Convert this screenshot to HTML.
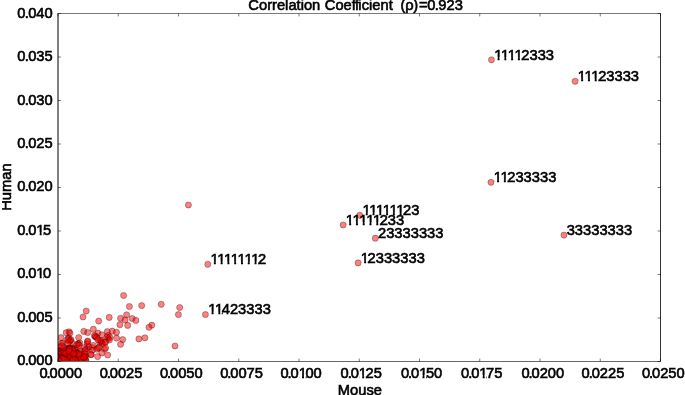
<!DOCTYPE html>
<html><head><meta charset="utf-8"><title>Correlation</title>
<style>html,body{margin:0;padding:0;background:#fff}svg{display:block}text{font-family:"Liberation Sans",sans-serif;font-size:14.7px;fill:#000;stroke:#000;stroke-width:0.6px}</style></head><body>
<svg width="685" height="395" viewBox="0 0 685 395">
<rect width="685" height="395" fill="#fff"/>
<clipPath id="c"><rect x="58.0" y="13.5" width="602.5" height="348.0"/></clipPath>
<g clip-path="url(#c)" fill="#f00" fill-opacity="0.5" stroke="#000" stroke-opacity="0.5" stroke-width="0.6">
<circle cx="69.4" cy="352.4" r="3.08"/>
<circle cx="63.3" cy="359.4" r="3.08"/>
<circle cx="57.9" cy="355.3" r="3.08"/>
<circle cx="60.4" cy="361.4" r="3.08"/>
<circle cx="61.2" cy="358.7" r="3.08"/>
<circle cx="66.7" cy="354.0" r="3.08"/>
<circle cx="58.9" cy="360.4" r="3.08"/>
<circle cx="58.5" cy="360.7" r="3.08"/>
<circle cx="71.5" cy="353.0" r="3.08"/>
<circle cx="58.5" cy="351.8" r="3.08"/>
<circle cx="57.5" cy="359.1" r="3.08"/>
<circle cx="65.5" cy="361.7" r="3.08"/>
<circle cx="61.6" cy="360.2" r="3.08"/>
<circle cx="66.1" cy="358.7" r="3.08"/>
<circle cx="67.0" cy="360.1" r="3.08"/>
<circle cx="60.9" cy="357.1" r="3.08"/>
<circle cx="60.8" cy="359.3" r="3.08"/>
<circle cx="58.0" cy="360.9" r="3.08"/>
<circle cx="69.4" cy="352.5" r="3.08"/>
<circle cx="68.8" cy="350.1" r="3.08"/>
<circle cx="58.8" cy="350.7" r="3.08"/>
<circle cx="78.6" cy="355.0" r="3.08"/>
<circle cx="58.1" cy="350.8" r="3.08"/>
<circle cx="64.1" cy="359.0" r="3.08"/>
<circle cx="59.1" cy="360.7" r="3.08"/>
<circle cx="83.7" cy="361.1" r="3.08"/>
<circle cx="58.7" cy="358.5" r="3.08"/>
<circle cx="60.2" cy="354.8" r="3.08"/>
<circle cx="58.2" cy="360.0" r="3.08"/>
<circle cx="67.7" cy="349.3" r="3.08"/>
<circle cx="61.6" cy="350.7" r="3.08"/>
<circle cx="70.0" cy="354.9" r="3.08"/>
<circle cx="61.8" cy="358.6" r="3.08"/>
<circle cx="58.3" cy="361.4" r="3.08"/>
<circle cx="82.1" cy="361.1" r="3.08"/>
<circle cx="70.0" cy="358.8" r="3.08"/>
<circle cx="85.1" cy="356.7" r="3.08"/>
<circle cx="63.4" cy="361.4" r="3.08"/>
<circle cx="68.9" cy="361.4" r="3.08"/>
<circle cx="85.7" cy="361.1" r="3.08"/>
<circle cx="62.9" cy="360.9" r="3.08"/>
<circle cx="60.8" cy="361.6" r="3.08"/>
<circle cx="58.9" cy="359.0" r="3.08"/>
<circle cx="69.2" cy="360.4" r="3.08"/>
<circle cx="59.7" cy="358.9" r="3.08"/>
<circle cx="62.3" cy="357.6" r="3.08"/>
<circle cx="71.4" cy="351.8" r="3.08"/>
<circle cx="63.9" cy="356.9" r="3.08"/>
<circle cx="59.1" cy="358.6" r="3.08"/>
<circle cx="58.3" cy="351.6" r="3.08"/>
<circle cx="72.1" cy="356.7" r="3.08"/>
<circle cx="66.7" cy="361.2" r="3.08"/>
<circle cx="58.7" cy="360.1" r="3.08"/>
<circle cx="61.5" cy="352.2" r="3.08"/>
<circle cx="72.9" cy="360.1" r="3.08"/>
<circle cx="61.9" cy="359.5" r="3.08"/>
<circle cx="60.9" cy="359.7" r="3.08"/>
<circle cx="68.6" cy="358.4" r="3.08"/>
<circle cx="63.0" cy="360.6" r="3.08"/>
<circle cx="67.1" cy="359.7" r="3.08"/>
<circle cx="60.9" cy="351.6" r="3.08"/>
<circle cx="64.9" cy="356.3" r="3.08"/>
<circle cx="63.4" cy="354.9" r="3.08"/>
<circle cx="77.9" cy="359.9" r="3.08"/>
<circle cx="69.6" cy="357.6" r="3.08"/>
<circle cx="69.5" cy="360.1" r="3.08"/>
<circle cx="61.6" cy="360.5" r="3.08"/>
<circle cx="73.9" cy="361.0" r="3.08"/>
<circle cx="57.6" cy="359.5" r="3.08"/>
<circle cx="58.4" cy="357.9" r="3.08"/>
<circle cx="63.6" cy="359.0" r="3.08"/>
<circle cx="58.9" cy="360.1" r="3.08"/>
<circle cx="70.6" cy="356.4" r="3.08"/>
<circle cx="65.1" cy="355.1" r="3.08"/>
<circle cx="63.9" cy="357.7" r="3.08"/>
<circle cx="58.3" cy="351.0" r="3.08"/>
<circle cx="72.7" cy="350.5" r="3.08"/>
<circle cx="61.7" cy="355.1" r="3.08"/>
<circle cx="59.6" cy="360.0" r="3.08"/>
<circle cx="59.4" cy="361.2" r="3.08"/>
<circle cx="72.4" cy="355.9" r="3.08"/>
<circle cx="77.9" cy="359.4" r="3.08"/>
<circle cx="57.6" cy="350.2" r="3.08"/>
<circle cx="63.0" cy="358.6" r="3.08"/>
<circle cx="60.6" cy="358.4" r="3.08"/>
<circle cx="67.7" cy="352.2" r="3.08"/>
<circle cx="60.3" cy="360.9" r="3.08"/>
<circle cx="66.4" cy="358.1" r="3.08"/>
<circle cx="73.4" cy="355.3" r="3.08"/>
<circle cx="61.3" cy="351.9" r="3.08"/>
<circle cx="63.8" cy="357.9" r="3.08"/>
<circle cx="64.1" cy="355.9" r="3.08"/>
<circle cx="83.3" cy="361.6" r="3.08"/>
<circle cx="63.9" cy="360.3" r="3.08"/>
<circle cx="59.2" cy="353.2" r="3.08"/>
<circle cx="66.6" cy="359.2" r="3.08"/>
<circle cx="59.9" cy="358.2" r="3.08"/>
<circle cx="59.4" cy="359.2" r="3.08"/>
<circle cx="66.4" cy="361.0" r="3.08"/>
<circle cx="64.2" cy="360.2" r="3.08"/>
<circle cx="60.0" cy="360.1" r="3.08"/>
<circle cx="59.7" cy="359.2" r="3.08"/>
<circle cx="69.4" cy="353.4" r="3.08"/>
<circle cx="61.3" cy="361.2" r="3.08"/>
<circle cx="58.6" cy="360.5" r="3.08"/>
<circle cx="60.3" cy="360.1" r="3.08"/>
<circle cx="60.5" cy="359.3" r="3.08"/>
<circle cx="63.8" cy="351.8" r="3.08"/>
<circle cx="70.6" cy="361.5" r="3.08"/>
<circle cx="57.8" cy="354.9" r="3.08"/>
<circle cx="85.2" cy="359.7" r="3.08"/>
<circle cx="58.3" cy="355.7" r="3.08"/>
<circle cx="64.0" cy="358.3" r="3.08"/>
<circle cx="70.2" cy="361.5" r="3.08"/>
<circle cx="70.5" cy="353.4" r="3.08"/>
<circle cx="60.1" cy="361.6" r="3.08"/>
<circle cx="81.0" cy="358.9" r="3.08"/>
<circle cx="62.5" cy="352.3" r="3.08"/>
<circle cx="61.7" cy="357.8" r="3.08"/>
<circle cx="61.5" cy="358.6" r="3.08"/>
<circle cx="59.8" cy="356.7" r="3.08"/>
<circle cx="67.0" cy="360.4" r="3.08"/>
<circle cx="59.1" cy="355.2" r="3.08"/>
<circle cx="62.3" cy="359.0" r="3.08"/>
<circle cx="58.1" cy="359.3" r="3.08"/>
<circle cx="62.6" cy="358.0" r="3.08"/>
<circle cx="57.6" cy="355.9" r="3.08"/>
<circle cx="61.7" cy="359.5" r="3.08"/>
<circle cx="58.9" cy="357.6" r="3.08"/>
<circle cx="66.0" cy="354.4" r="3.08"/>
<circle cx="63.3" cy="361.1" r="3.08"/>
<circle cx="85.1" cy="355.5" r="3.08"/>
<circle cx="62.0" cy="357.3" r="3.08"/>
<circle cx="69.6" cy="360.5" r="3.08"/>
<circle cx="66.2" cy="355.5" r="3.08"/>
<circle cx="63.8" cy="357.5" r="3.08"/>
<circle cx="77.7" cy="360.5" r="3.08"/>
<circle cx="73.5" cy="348.7" r="3.08"/>
<circle cx="60.1" cy="361.3" r="3.08"/>
<circle cx="67.5" cy="355.2" r="3.08"/>
<circle cx="60.5" cy="359.7" r="3.08"/>
<circle cx="75.6" cy="350.2" r="3.08"/>
<circle cx="73.2" cy="360.7" r="3.08"/>
<circle cx="68.0" cy="358.7" r="3.08"/>
<circle cx="66.4" cy="358.9" r="3.08"/>
<circle cx="63.6" cy="353.6" r="3.08"/>
<circle cx="61.7" cy="359.0" r="3.08"/>
<circle cx="64.6" cy="355.9" r="3.08"/>
<circle cx="81.5" cy="359.1" r="3.08"/>
<circle cx="74.5" cy="359.7" r="3.08"/>
<circle cx="63.9" cy="361.5" r="3.08"/>
<circle cx="58.5" cy="351.8" r="3.08"/>
<circle cx="59.3" cy="355.4" r="3.08"/>
<circle cx="59.0" cy="358.5" r="3.08"/>
<circle cx="73.2" cy="351.1" r="3.08"/>
<circle cx="64.0" cy="359.4" r="3.08"/>
<circle cx="57.9" cy="361.6" r="3.08"/>
<circle cx="60.9" cy="359.9" r="3.08"/>
<circle cx="71.3" cy="349.2" r="3.08"/>
<circle cx="73.7" cy="358.1" r="3.08"/>
<circle cx="60.5" cy="361.4" r="3.08"/>
<circle cx="62.8" cy="360.6" r="3.08"/>
<circle cx="58.2" cy="355.6" r="3.08"/>
<circle cx="66.4" cy="355.4" r="3.08"/>
<circle cx="66.4" cy="359.7" r="3.08"/>
<circle cx="76.1" cy="357.2" r="3.08"/>
<circle cx="60.6" cy="358.3" r="3.08"/>
<circle cx="66.6" cy="355.1" r="3.08"/>
<circle cx="67.3" cy="359.1" r="3.08"/>
<circle cx="57.9" cy="359.8" r="3.08"/>
<circle cx="61.9" cy="360.3" r="3.08"/>
<circle cx="72.9" cy="360.3" r="3.08"/>
<circle cx="60.7" cy="354.3" r="3.08"/>
<circle cx="62.9" cy="359.4" r="3.08"/>
<circle cx="62.8" cy="358.5" r="3.08"/>
<circle cx="62.7" cy="359.6" r="3.08"/>
<circle cx="66.6" cy="352.8" r="3.08"/>
<circle cx="58.5" cy="360.0" r="3.08"/>
<circle cx="58.5" cy="358.0" r="3.08"/>
<circle cx="59.8" cy="361.5" r="3.08"/>
<circle cx="85.6" cy="356.2" r="3.08"/>
<circle cx="63.9" cy="360.5" r="3.08"/>
<circle cx="59.5" cy="359.6" r="3.08"/>
<circle cx="59.8" cy="353.8" r="3.08"/>
<circle cx="58.4" cy="358.5" r="3.08"/>
<circle cx="69.3" cy="359.3" r="3.08"/>
<circle cx="71.9" cy="354.3" r="3.08"/>
<circle cx="61.9" cy="360.1" r="3.08"/>
<circle cx="66.6" cy="361.2" r="3.08"/>
<circle cx="65.0" cy="359.1" r="3.08"/>
<circle cx="67.2" cy="360.9" r="3.08"/>
<circle cx="71.4" cy="360.3" r="3.08"/>
<circle cx="63.8" cy="356.2" r="3.08"/>
<circle cx="71.8" cy="348.2" r="3.08"/>
<circle cx="70.0" cy="355.8" r="3.08"/>
<circle cx="65.3" cy="359.5" r="3.08"/>
<circle cx="63.8" cy="360.4" r="3.08"/>
<circle cx="81.1" cy="359.6" r="3.08"/>
<circle cx="78.0" cy="361.5" r="3.08"/>
<circle cx="71.8" cy="357.3" r="3.08"/>
<circle cx="71.9" cy="359.8" r="3.08"/>
<circle cx="58.5" cy="360.8" r="3.08"/>
<circle cx="65.7" cy="357.3" r="3.08"/>
<circle cx="63.7" cy="355.5" r="3.08"/>
<circle cx="58.1" cy="357.9" r="3.08"/>
<circle cx="57.5" cy="358.0" r="3.08"/>
<circle cx="62.2" cy="359.4" r="3.08"/>
<circle cx="81.0" cy="354.8" r="3.08"/>
<circle cx="67.2" cy="361.3" r="3.08"/>
<circle cx="78.4" cy="359.8" r="3.08"/>
<circle cx="80.9" cy="357.8" r="3.08"/>
<circle cx="61.2" cy="354.9" r="3.08"/>
<circle cx="65.8" cy="361.6" r="3.08"/>
<circle cx="63.2" cy="354.4" r="3.08"/>
<circle cx="67.6" cy="359.8" r="3.08"/>
<circle cx="63.6" cy="351.8" r="3.08"/>
<circle cx="62.9" cy="360.0" r="3.08"/>
<circle cx="57.8" cy="357.3" r="3.08"/>
<circle cx="63.3" cy="352.3" r="3.08"/>
<circle cx="75.6" cy="358.4" r="3.08"/>
<circle cx="63.8" cy="359.1" r="3.08"/>
<circle cx="60.1" cy="360.2" r="3.08"/>
<circle cx="63.2" cy="361.0" r="3.08"/>
<circle cx="77.1" cy="355.0" r="3.08"/>
<circle cx="73.3" cy="356.2" r="3.08"/>
<circle cx="63.1" cy="360.7" r="3.08"/>
<circle cx="65.7" cy="356.4" r="3.08"/>
<circle cx="67.9" cy="356.2" r="3.08"/>
<circle cx="60.1" cy="356.7" r="3.08"/>
<circle cx="62.4" cy="356.9" r="3.08"/>
<circle cx="59.9" cy="360.1" r="3.08"/>
<circle cx="58.7" cy="360.1" r="3.08"/>
<circle cx="67.8" cy="355.2" r="3.08"/>
<circle cx="58.9" cy="357.6" r="3.08"/>
<circle cx="63.5" cy="361.6" r="3.08"/>
<circle cx="81.0" cy="361.0" r="3.08"/>
<circle cx="75.9" cy="355.6" r="3.08"/>
<circle cx="58.9" cy="359.4" r="3.08"/>
<circle cx="81.6" cy="359.5" r="3.08"/>
<circle cx="58.6" cy="361.3" r="3.08"/>
<circle cx="66.8" cy="361.3" r="3.08"/>
<circle cx="76.4" cy="361.0" r="3.08"/>
<circle cx="60.6" cy="361.5" r="3.08"/>
<circle cx="58.8" cy="359.2" r="3.08"/>
<circle cx="63.7" cy="360.6" r="3.08"/>
<circle cx="57.7" cy="358.3" r="3.08"/>
<circle cx="59.5" cy="354.0" r="3.08"/>
<circle cx="62.5" cy="355.8" r="3.08"/>
<circle cx="77.5" cy="356.3" r="3.08"/>
<circle cx="70.2" cy="360.7" r="3.08"/>
<circle cx="57.5" cy="360.0" r="3.08"/>
<circle cx="82.0" cy="357.8" r="3.08"/>
<circle cx="62.0" cy="357.8" r="3.08"/>
<circle cx="68.5" cy="356.1" r="3.08"/>
<circle cx="59.5" cy="357.8" r="3.08"/>
<circle cx="72.0" cy="350.5" r="3.08"/>
<circle cx="71.8" cy="349.1" r="3.08"/>
<circle cx="58.8" cy="358.9" r="3.08"/>
<circle cx="72.5" cy="360.9" r="3.08"/>
<circle cx="57.7" cy="356.4" r="3.08"/>
<circle cx="63.3" cy="357.9" r="3.08"/>
<circle cx="81.5" cy="355.0" r="3.08"/>
<circle cx="57.9" cy="357.2" r="3.08"/>
<circle cx="57.5" cy="359.7" r="3.08"/>
<circle cx="64.2" cy="356.9" r="3.08"/>
<circle cx="76.5" cy="355.8" r="3.08"/>
<circle cx="62.2" cy="359.9" r="3.08"/>
<circle cx="66.1" cy="350.2" r="3.08"/>
<circle cx="67.8" cy="349.2" r="3.08"/>
<circle cx="71.9" cy="354.1" r="3.08"/>
<circle cx="77.9" cy="353.9" r="3.08"/>
<circle cx="69.4" cy="357.3" r="3.08"/>
<circle cx="70.4" cy="348.1" r="3.08"/>
<circle cx="62.2" cy="351.4" r="3.08"/>
<circle cx="75.2" cy="356.6" r="3.08"/>
<circle cx="61.2" cy="360.0" r="3.08"/>
<circle cx="64.2" cy="355.4" r="3.08"/>
<circle cx="82.9" cy="357.3" r="3.08"/>
<circle cx="76.9" cy="352.5" r="3.08"/>
<circle cx="57.9" cy="353.3" r="3.08"/>
<circle cx="59.9" cy="361.5" r="3.08"/>
<circle cx="74.0" cy="360.9" r="3.08"/>
<circle cx="60.2" cy="360.7" r="3.08"/>
<circle cx="63.5" cy="361.7" r="3.08"/>
<circle cx="63.5" cy="353.4" r="3.08"/>
<circle cx="58.2" cy="354.3" r="3.08"/>
<circle cx="74.0" cy="359.8" r="3.08"/>
<circle cx="71.1" cy="354.2" r="3.08"/>
<circle cx="68.3" cy="350.2" r="3.08"/>
<circle cx="73.0" cy="358.6" r="3.08"/>
<circle cx="61.9" cy="350.4" r="3.08"/>
<circle cx="58.3" cy="356.3" r="3.08"/>
<circle cx="65.9" cy="359.5" r="3.08"/>
<circle cx="66.9" cy="349.0" r="3.08"/>
<circle cx="60.0" cy="353.8" r="3.08"/>
<circle cx="71.9" cy="360.0" r="3.08"/>
<circle cx="58.1" cy="361.1" r="3.08"/>
<circle cx="69.1" cy="349.2" r="3.08"/>
<circle cx="80.2" cy="360.1" r="3.08"/>
<circle cx="76.9" cy="358.2" r="3.08"/>
<circle cx="66.3" cy="357.8" r="3.08"/>
<circle cx="58.3" cy="352.2" r="3.08"/>
<circle cx="64.8" cy="358.5" r="3.08"/>
<circle cx="60.5" cy="360.2" r="3.08"/>
<circle cx="59.4" cy="360.4" r="3.08"/>
<circle cx="80.0" cy="351.7" r="3.08"/>
<circle cx="69.6" cy="354.2" r="3.08"/>
<circle cx="69.0" cy="361.6" r="3.08"/>
<circle cx="57.8" cy="360.6" r="3.08"/>
<circle cx="83.7" cy="355.5" r="3.08"/>
<circle cx="81.2" cy="360.6" r="3.08"/>
<circle cx="73.9" cy="361.0" r="3.08"/>
<circle cx="72.5" cy="349.0" r="3.08"/>
<circle cx="60.1" cy="360.0" r="3.08"/>
<circle cx="72.9" cy="357.8" r="3.08"/>
<circle cx="72.2" cy="352.1" r="3.08"/>
<circle cx="58.8" cy="354.6" r="3.08"/>
<circle cx="66.8" cy="359.7" r="3.08"/>
<circle cx="70.1" cy="356.0" r="3.08"/>
<circle cx="58.7" cy="358.6" r="3.08"/>
<circle cx="63.9" cy="361.4" r="3.08"/>
<circle cx="70.3" cy="359.8" r="3.08"/>
<circle cx="61.5" cy="358.7" r="3.08"/>
<circle cx="58.6" cy="357.5" r="3.08"/>
<circle cx="58.1" cy="359.9" r="3.08"/>
<circle cx="68.1" cy="348.0" r="3.08"/>
<circle cx="59.9" cy="358.7" r="3.08"/>
<circle cx="65.0" cy="361.6" r="3.08"/>
<circle cx="61.8" cy="359.4" r="3.08"/>
<circle cx="61.0" cy="359.2" r="3.08"/>
<circle cx="62.3" cy="352.5" r="3.08"/>
<circle cx="60.2" cy="353.4" r="3.08"/>
<circle cx="68.7" cy="348.5" r="3.08"/>
<circle cx="73.4" cy="360.6" r="3.08"/>
<circle cx="80.8" cy="351.1" r="3.08"/>
<circle cx="66.7" cy="355.3" r="3.08"/>
<circle cx="60.7" cy="358.3" r="3.08"/>
<circle cx="63.6" cy="360.2" r="3.08"/>
<circle cx="68.8" cy="349.8" r="3.08"/>
<circle cx="59.9" cy="352.7" r="3.08"/>
<circle cx="76.9" cy="353.3" r="3.08"/>
<circle cx="58.9" cy="359.9" r="3.08"/>
<circle cx="83.2" cy="360.0" r="3.08"/>
<circle cx="69.1" cy="349.1" r="3.08"/>
<circle cx="63.4" cy="355.4" r="3.08"/>
<circle cx="61.9" cy="353.5" r="3.08"/>
<circle cx="66.9" cy="353.7" r="3.08"/>
<circle cx="70.3" cy="352.3" r="3.08"/>
<circle cx="78.0" cy="357.8" r="3.08"/>
<circle cx="72.7" cy="360.8" r="3.08"/>
<circle cx="59.4" cy="352.3" r="3.08"/>
<circle cx="59.0" cy="354.8" r="3.08"/>
<circle cx="63.7" cy="360.3" r="3.08"/>
<circle cx="76.1" cy="361.6" r="3.08"/>
<circle cx="58.0" cy="358.2" r="3.08"/>
<circle cx="62.9" cy="359.7" r="3.08"/>
<circle cx="59.8" cy="358.7" r="3.08"/>
<circle cx="67.7" cy="360.6" r="3.08"/>
<circle cx="59.2" cy="361.7" r="3.08"/>
<circle cx="58.3" cy="358.9" r="3.08"/>
<circle cx="62.4" cy="360.1" r="3.08"/>
<circle cx="71.2" cy="361.2" r="3.08"/>
<circle cx="82.6" cy="357.4" r="3.08"/>
<circle cx="59.1" cy="360.5" r="3.08"/>
<circle cx="57.7" cy="359.5" r="3.08"/>
<circle cx="69.3" cy="360.4" r="3.08"/>
<circle cx="57.9" cy="353.4" r="3.08"/>
<circle cx="67.3" cy="361.0" r="3.08"/>
<circle cx="66.8" cy="361.3" r="3.08"/>
<circle cx="72.1" cy="354.3" r="3.08"/>
<circle cx="58.8" cy="351.7" r="3.08"/>
<circle cx="67.2" cy="353.7" r="3.08"/>
<circle cx="57.5" cy="354.1" r="3.08"/>
<circle cx="79.8" cy="360.7" r="3.08"/>
<circle cx="60.9" cy="360.4" r="3.08"/>
<circle cx="58.2" cy="360.2" r="3.08"/>
<circle cx="60.4" cy="358.7" r="3.08"/>
<circle cx="78.6" cy="356.4" r="3.08"/>
<circle cx="74.8" cy="348.7" r="3.08"/>
<circle cx="69.4" cy="358.4" r="3.08"/>
<circle cx="57.5" cy="353.9" r="3.08"/>
<circle cx="57.9" cy="351.8" r="3.08"/>
<circle cx="71.7" cy="361.5" r="3.08"/>
<circle cx="64.1" cy="356.6" r="3.08"/>
<circle cx="69.8" cy="361.5" r="3.08"/>
<circle cx="63.7" cy="360.6" r="3.08"/>
<circle cx="58.9" cy="361.4" r="3.08"/>
<circle cx="69.7" cy="359.7" r="3.08"/>
<circle cx="72.9" cy="350.8" r="3.08"/>
<circle cx="63.0" cy="357.3" r="3.08"/>
<circle cx="65.4" cy="357.6" r="3.08"/>
<circle cx="77.8" cy="358.2" r="3.08"/>
<circle cx="58.9" cy="360.8" r="3.08"/>
<circle cx="61.3" cy="361.6" r="3.08"/>
<circle cx="60.8" cy="360.2" r="3.08"/>
<circle cx="67.8" cy="360.5" r="3.08"/>
<circle cx="75.6" cy="360.8" r="3.08"/>
<circle cx="79.1" cy="353.6" r="3.08"/>
<circle cx="60.9" cy="360.2" r="3.08"/>
<circle cx="85.9" cy="360.2" r="3.08"/>
<circle cx="60.3" cy="361.2" r="3.08"/>
<circle cx="57.8" cy="361.3" r="3.08"/>
<circle cx="74.4" cy="354.6" r="3.08"/>
<circle cx="64.8" cy="358.9" r="3.08"/>
<circle cx="72.3" cy="361.4" r="3.08"/>
<circle cx="61.5" cy="353.7" r="3.08"/>
<circle cx="69.1" cy="356.0" r="3.08"/>
<circle cx="75.4" cy="360.4" r="3.08"/>
<circle cx="58.1" cy="360.0" r="3.08"/>
<circle cx="59.6" cy="356.9" r="3.08"/>
<circle cx="79.8" cy="356.2" r="3.08"/>
<circle cx="69.9" cy="349.1" r="3.08"/>
<circle cx="60.3" cy="360.9" r="3.08"/>
<circle cx="64.1" cy="351.8" r="3.08"/>
<circle cx="79.3" cy="354.6" r="3.08"/>
<circle cx="65.6" cy="353.4" r="3.08"/>
<circle cx="81.0" cy="359.0" r="3.08"/>
<circle cx="65.9" cy="359.7" r="3.08"/>
<circle cx="57.6" cy="357.3" r="3.08"/>
<circle cx="72.9" cy="358.6" r="3.08"/>
<circle cx="69.9" cy="351.4" r="3.08"/>
<circle cx="58.1" cy="359.0" r="3.08"/>
<circle cx="73.1" cy="353.5" r="3.08"/>
<circle cx="59.4" cy="358.2" r="3.08"/>
<circle cx="62.1" cy="358.0" r="3.08"/>
<circle cx="62.1" cy="358.5" r="3.08"/>
<circle cx="63.8" cy="359.6" r="3.08"/>
<circle cx="58.0" cy="360.5" r="3.08"/>
<circle cx="68.6" cy="350.9" r="3.08"/>
<circle cx="59.5" cy="361.0" r="3.08"/>
<circle cx="188.4" cy="205.0" r="3.08"/>
<circle cx="123.6" cy="295.5" r="3.08"/>
<circle cx="129.4" cy="306.5" r="3.08"/>
<circle cx="141.7" cy="305.6" r="3.08"/>
<circle cx="161.2" cy="304.3" r="3.08"/>
<circle cx="179.7" cy="307.5" r="3.08"/>
<circle cx="178.4" cy="314.6" r="3.08"/>
<circle cx="86.2" cy="311.0" r="3.08"/>
<circle cx="83.0" cy="317.0" r="3.08"/>
<circle cx="98.7" cy="321.1" r="3.08"/>
<circle cx="109.2" cy="317.4" r="3.08"/>
<circle cx="120.6" cy="318.3" r="3.08"/>
<circle cx="126.6" cy="314.8" r="3.08"/>
<circle cx="125.1" cy="320.0" r="3.08"/>
<circle cx="132.2" cy="318.5" r="3.08"/>
<circle cx="135.9" cy="320.4" r="3.08"/>
<circle cx="119.9" cy="324.7" r="3.08"/>
<circle cx="127.7" cy="325.4" r="3.08"/>
<circle cx="151.8" cy="325.2" r="3.08"/>
<circle cx="149.0" cy="327.3" r="3.08"/>
<circle cx="93.3" cy="329.2" r="3.08"/>
<circle cx="83.8" cy="331.4" r="3.08"/>
<circle cx="87.7" cy="332.5" r="3.08"/>
<circle cx="69.0" cy="331.8" r="3.08"/>
<circle cx="66.2" cy="332.7" r="3.08"/>
<circle cx="107.3" cy="331.6" r="3.08"/>
<circle cx="112.2" cy="331.2" r="3.08"/>
<circle cx="116.5" cy="332.3" r="3.08"/>
<circle cx="98.0" cy="333.1" r="3.08"/>
<circle cx="101.9" cy="334.8" r="3.08"/>
<circle cx="108.1" cy="335.5" r="3.08"/>
<circle cx="95.2" cy="336.8" r="3.08"/>
<circle cx="61.0" cy="337.6" r="3.08"/>
<circle cx="78.7" cy="337.6" r="3.08"/>
<circle cx="116.5" cy="338.1" r="3.08"/>
<circle cx="122.7" cy="339.6" r="3.08"/>
<circle cx="138.9" cy="338.9" r="3.08"/>
<circle cx="144.9" cy="337.8" r="3.08"/>
<circle cx="120.6" cy="344.3" r="3.08"/>
<circle cx="175.0" cy="346.0" r="3.08"/>
<circle cx="108.2" cy="338.5" r="3.08"/>
<circle cx="68.8" cy="338.0" r="3.08"/>
<circle cx="70.4" cy="340.6" r="3.08"/>
<circle cx="100.7" cy="341.1" r="3.08"/>
<circle cx="87.4" cy="341.7" r="3.08"/>
<circle cx="105.0" cy="342.2" r="3.08"/>
<circle cx="77.9" cy="343.8" r="3.08"/>
<circle cx="98.1" cy="348.1" r="3.08"/>
<circle cx="104.5" cy="349.1" r="3.08"/>
<circle cx="92.2" cy="347.5" r="3.08"/>
<circle cx="101.8" cy="352.9" r="3.08"/>
<circle cx="107.7" cy="355.0" r="3.08"/>
<circle cx="97.6" cy="356.6" r="3.08"/>
<circle cx="91.2" cy="354.4" r="3.08"/>
<circle cx="61.4" cy="343.3" r="3.08"/>
<circle cx="62.8" cy="343.1" r="3.08"/>
<circle cx="68.2" cy="338.6" r="3.08"/>
<circle cx="101.6" cy="342.4" r="3.08"/>
<circle cx="93.2" cy="345.4" r="3.08"/>
<circle cx="95.5" cy="336.3" r="3.08"/>
<circle cx="87.2" cy="343.9" r="3.08"/>
<circle cx="85.6" cy="349.2" r="3.08"/>
<circle cx="78.4" cy="343.9" r="3.08"/>
<circle cx="94.3" cy="335.6" r="3.08"/>
<circle cx="96.8" cy="337.6" r="3.08"/>
<circle cx="107.0" cy="337.2" r="3.08"/>
<circle cx="109.8" cy="337.4" r="3.08"/>
<circle cx="109.4" cy="340.0" r="3.08"/>
<circle cx="99.6" cy="342.6" r="3.08"/>
<circle cx="102.4" cy="343.6" r="3.08"/>
<circle cx="101.0" cy="340.4" r="3.08"/>
<circle cx="96.9" cy="349.2" r="3.08"/>
<circle cx="99.2" cy="347.2" r="3.08"/>
<circle cx="105.6" cy="348.0" r="3.08"/>
<circle cx="87.2" cy="349.0" r="3.08"/>
<circle cx="88.8" cy="347.0" r="3.08"/>
<circle cx="71.6" cy="342.2" r="3.08"/>
<circle cx="69.4" cy="341.4" r="3.08"/>
<circle cx="70.9" cy="339.6" r="3.08"/>
<circle cx="79.8" cy="343.0" r="3.08"/>
<circle cx="77.0" cy="344.8" r="3.08"/>
<circle cx="79.2" cy="345.2" r="3.08"/>
<circle cx="67.8" cy="342.9" r="3.08"/>
<circle cx="70.0" cy="333.0" r="3.08"/>
<circle cx="67.4" cy="339.6" r="3.08"/>
<circle cx="97.9" cy="339.7" r="3.08"/>
<circle cx="105.6" cy="342.0" r="3.08"/>
<circle cx="92.4" cy="350.2" r="3.08"/>
<circle cx="91.0" cy="354.7" r="3.08"/>
<circle cx="87.8" cy="341.0" r="3.08"/>
<circle cx="84.5" cy="347.5" r="3.08"/>
<circle cx="85.2" cy="350.8" r="3.08"/>
<circle cx="84.8" cy="354.0" r="3.08"/>
<circle cx="83.9" cy="357.2" r="3.08"/>
<circle cx="60.4" cy="347.2" r="3.08"/>
<circle cx="63.8" cy="347.6" r="3.08"/>
<circle cx="61.8" cy="345.9" r="3.08"/>
<circle cx="491.5" cy="59.8" r="3.08"/>
<circle cx="575.1" cy="81.3" r="3.08"/>
<circle cx="491.0" cy="182.3" r="3.08"/>
<circle cx="359.7" cy="215.3" r="3.08"/>
<circle cx="343.1" cy="225.0" r="3.08"/>
<circle cx="375.3" cy="238.2" r="3.08"/>
<circle cx="358.1" cy="262.9" r="3.08"/>
<circle cx="564.0" cy="235.1" r="3.08"/>
<circle cx="207.8" cy="264.3" r="3.08"/>
<circle cx="205.5" cy="314.5" r="3.08"/>
</g>
<path d="M58.0 13.0V362.0" stroke="#000" stroke-width="1" fill="none"/>
<path d="M660.5 13.0V362.0" stroke="#333" stroke-width="1" fill="none"/>
<path d="M57.5 13.5H661.0" stroke="#7a7a7a" stroke-width="1" fill="none"/>
<path d="M57.5 361.5H661.0" stroke="#686868" stroke-width="1.1" fill="none"/>
<path d="M58.00 361.5v-2.9M58.00 13.5v2.9M118.25 361.5v-2.9M118.25 13.5v2.9M178.50 361.5v-2.9M178.50 13.5v2.9M238.75 361.5v-2.9M238.75 13.5v2.9M299.00 361.5v-2.9M299.00 13.5v2.9M359.25 361.5v-2.9M359.25 13.5v2.9M419.50 361.5v-2.9M419.50 13.5v2.9M479.75 361.5v-2.9M479.75 13.5v2.9M540.00 361.5v-2.9M540.00 13.5v2.9M600.25 361.5v-2.9M600.25 13.5v2.9M660.50 361.5v-2.9M660.50 13.5v2.9M58.0 361.50h2.9M660.5 361.50h-2.9M58.0 318.00h2.9M660.5 318.00h-2.9M58.0 274.50h2.9M660.5 274.50h-2.9M58.0 231.00h2.9M660.5 231.00h-2.9M58.0 187.50h2.9M660.5 187.50h-2.9M58.0 144.00h2.9M660.5 144.00h-2.9M58.0 100.50h2.9M660.5 100.50h-2.9M58.0 57.00h2.9M660.5 57.00h-2.9M58.0 13.50h2.9M660.5 13.50h-2.9" stroke="#000" stroke-opacity="0.7" stroke-width="0.75" fill="none"/>
<g transform="scale(1,1.04)">
<text x="39.4" y="363.17" dx="0 -1.1 -1.1 0 0 0">0.0000</text>
<text x="99.7" y="363.17" dx="0 -1.1 -1.1 0 0 0">0.0025</text>
<text x="159.9" y="363.17" dx="0 -1.1 -1.1 0 0 0">0.0050</text>
<text x="220.2" y="363.17" dx="0 -1.1 -1.1 0 0 0">0.0075</text>
<text x="280.4" y="363.17" dx="0 -1.1 -1.1 0 -1.4 0">0.0100</text>
<path d="M299.27 360.67H301.99V364.97H299.27zM303.99 360.67H305.70V364.97H303.99z" fill="#fff"/>
<text x="340.6" y="363.17" dx="0 -1.1 -1.1 0 -1.4 0">0.0125</text>
<path d="M359.47 360.67H362.19V364.97H359.47zM364.19 360.67H365.77V364.97H364.19z" fill="#fff"/>
<text x="400.9" y="363.17" dx="0 -1.1 -1.1 0 -1.4 0">0.0150</text>
<path d="M419.77 360.67H422.49V364.97H419.77zM424.49 360.67H426.21V364.97H424.49z" fill="#fff"/>
<text x="461.1" y="363.17" dx="0 -1.1 -1.1 0 -1.4 0">0.0175</text>
<path d="M479.97 360.67H482.69V364.97H479.97zM484.69 360.67H486.41V364.97H484.69z" fill="#fff"/>
<text x="521.4" y="363.17" dx="0 -1.1 -1.1 0 0 0">0.0200</text>
<text x="581.6" y="363.17" dx="0 -1.1 -1.1 0 0 0">0.0225</text>
<text x="641.9" y="363.17" dx="0 -1.1 -1.1 0 0 0">0.0250</text>
<text x="17.3" y="350.87" dx="0 -0.7 -0.7 0 0">0.000</text>
<text x="17.3" y="309.16" dx="0 -0.7 -0.7 0 0">0.005</text>
<text x="17.3" y="267.45" dx="0 -0.7 -0.7 0 -1.4">0.010</text>
<path d="M36.97 264.95H39.69V269.25H36.97zM41.69 264.95H43.40V269.25H41.69z" fill="#fff"/>
<text x="17.3" y="225.75" dx="0 -0.7 -0.7 0 -1.4">0.015</text>
<path d="M36.97 223.25H39.69V227.55H36.97zM41.69 223.25H43.41V227.55H41.69z" fill="#fff"/>
<text x="17.3" y="184.04" dx="0 -0.7 -0.7 0 0">0.020</text>
<text x="17.3" y="142.33" dx="0 -0.7 -0.7 0 0">0.025</text>
<text x="17.3" y="100.62" dx="0 -0.7 -0.7 0 0">0.030</text>
<text x="17.3" y="58.92" dx="0 -0.7 -0.7 0 0">0.035</text>
<text x="17.3" y="17.21" dx="0 -0.7 -0.7 0 0">0.040</text>
<text x="359.9" y="379.52" text-anchor="middle">Mouse</text>
</g>
<clipPath id="h"><rect x="2.1" y="150" width="20" height="80"/></clipPath>
<g clip-path="url(#h)"><text transform="translate(10.8,187.1) rotate(-90) scale(1,1.04)" text-anchor="middle">Human</text></g>
<g transform="scale(1,1.04)">
<text x="248.35" y="9.71" dx="0 0 0 0 0 0 0 0 0 0 0 0 0.4 0 0 0 -0.6 -0.7 0 0 0 0 0 0 3.8 -0.3 -0.3 0.9 -0.4 -0.6 -0.6 0 0">Correlation Coefficient (ρ)=0.923</text>
<text x="494.2" y="57.40" dx="0 -0.31 -0.31 -0.31 -1.4 0 0 0">11112333</text>
<path d="M494.82 54.90H497.55V59.20H494.82zM499.55 54.90H501.80V59.20H499.55zM501.60 54.90H504.33V59.20H501.60zM506.33 54.90H508.58V59.20H506.33zM508.38 54.90H511.11V59.20H508.38zM513.11 54.90H515.36V59.20H513.11zM515.16 54.90H517.89V59.20H515.16zM519.89 54.90H521.46V59.20H519.89z" fill="#fff"/>
<text x="577.8" y="78.08" dx="0 -0.31 -0.31 -1.4 0 0 0 0">11123333</text>
<path d="M578.42 75.58H581.15V79.88H578.42zM583.15 75.58H585.40V79.88H583.15zM585.20 75.58H587.93V79.88H585.20zM589.93 75.58H592.18V79.88H589.93zM591.98 75.58H594.71V79.88H591.98zM596.71 75.58H598.28V79.88H596.71z" fill="#fff"/>
<text x="493.7" y="175.19" dx="0 -0.31 -1.4 0 0 0 0 0">11233333</text>
<path d="M494.32 172.69H497.05V176.99H494.32zM499.05 172.69H501.30V176.99H499.05zM501.10 172.69H503.83V176.99H501.10zM505.83 172.69H507.40V176.99H505.83z" fill="#fff"/>
<text x="362.4" y="206.92" dx="0 -0.31 -0.31 -0.31 -0.31 -0.31 -1.4 0">11111123</text>
<path d="M363.02 204.42H365.75V208.72H363.02zM367.75 204.42H370.00V208.72H367.75zM369.80 204.42H372.53V208.72H369.80zM374.53 204.42H376.78V208.72H374.53zM376.58 204.42H379.31V208.72H376.58zM381.31 204.42H383.56V208.72H381.31zM383.36 204.42H386.09V208.72H383.36zM388.09 204.42H390.34V208.72H388.09zM390.14 204.42H392.87V208.72H390.14zM394.87 204.42H397.13V208.72H394.87zM396.93 204.42H399.65V208.72H396.93zM401.65 204.42H403.23V208.72H401.65z" fill="#fff"/>
<text x="345.8" y="216.25" dx="0 -0.31 -0.31 -0.31 -0.31 -1.4 0 0">11111233</text>
<path d="M346.42 213.75H349.15V218.05H346.42zM351.15 213.75H353.40V218.05H351.15zM353.20 213.75H355.93V218.05H353.20zM357.93 213.75H360.18V218.05H357.93zM359.98 213.75H362.71V218.05H359.98zM364.71 213.75H366.96V218.05H364.71zM366.76 213.75H369.49V218.05H366.76zM371.49 213.75H373.74V218.05H371.49zM373.54 213.75H376.27V218.05H373.54zM378.27 213.75H379.84V218.05H378.27z" fill="#fff"/>
<text x="378.0" y="228.94" dx="0 0 0 0 0 0 0 0">23333333</text>
<text x="360.8" y="252.69" dx="0 -1.4 0 0 0 0 0 0">12333333</text>
<path d="M361.42 250.19H364.15V254.49H361.42zM366.15 250.19H367.72V254.49H366.15z" fill="#fff"/>
<text x="566.7" y="225.96" dx="0 0 0 0 0 0 0 0">33333333</text>
<text x="210.5" y="254.04" dx="0 -0.31 -0.31 -0.31 -0.31 -0.31 -0.31 -1.4">11111112</text>
<path d="M211.12 251.54H213.85V255.84H211.12zM215.85 251.54H218.10V255.84H215.85zM217.90 251.54H220.63V255.84H217.90zM222.63 251.54H224.88V255.84H222.63zM224.68 251.54H227.41V255.84H224.68zM229.41 251.54H231.66V255.84H229.41zM231.46 251.54H234.19V255.84H231.46zM236.19 251.54H238.44V255.84H236.19zM238.24 251.54H240.97V255.84H238.24zM242.97 251.54H245.23V255.84H242.97zM245.03 251.54H247.75V255.84H245.03zM249.75 251.54H252.01V255.84H249.75zM251.81 251.54H254.53V255.84H251.81zM256.53 251.54H258.11V255.84H256.53z" fill="#fff"/>
<text x="208.2" y="302.31" dx="0 -0.31 -1.4 0 0 0 0 0">11423333</text>
<path d="M208.82 299.81H211.55V304.11H208.82zM213.55 299.81H215.80V304.11H213.55zM215.60 299.81H218.33V304.11H215.60zM220.33 299.81H221.75V304.11H220.33z" fill="#fff"/>
</g>
</svg></body></html>
